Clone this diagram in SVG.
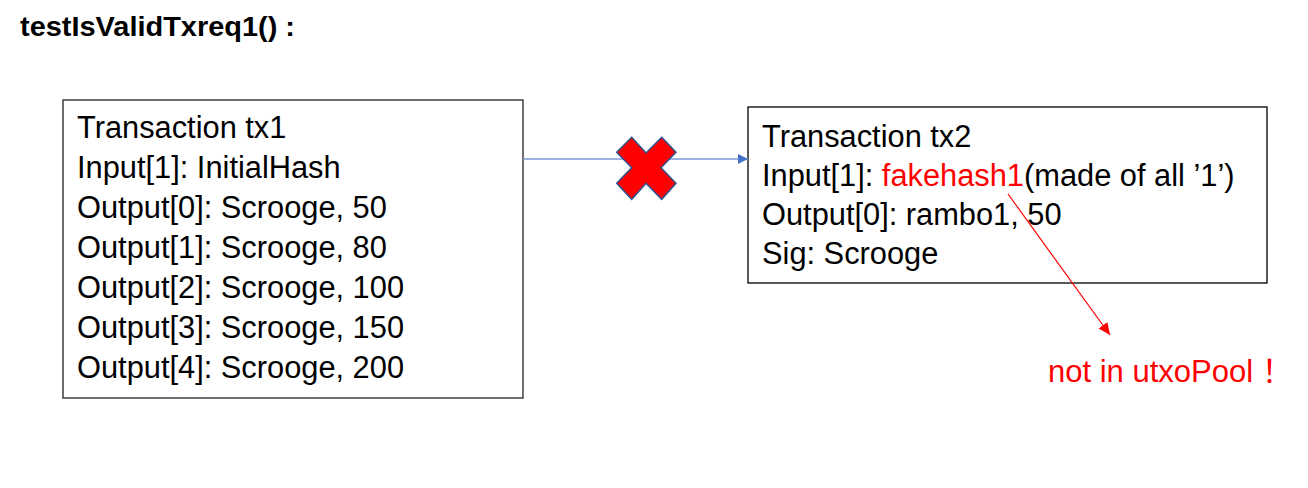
<svg xmlns="http://www.w3.org/2000/svg" width="1308" height="488" viewBox="0 0 1308 488">
<style>
.box{fill:#fff;stroke:#222;stroke-width:1.3}
.t{font-family:"Liberation Sans",Arial,sans-serif;font-size:30.8px;fill:#000}
.red{fill:#ff0000}
.title{font-family:"Liberation Sans",Arial,sans-serif;font-size:28px;font-weight:bold;fill:#000}
</style>
<defs>
<marker id="blueHead" viewBox="0 0 10 10" refX="10" refY="5" markerWidth="10" markerHeight="10" markerUnits="userSpaceOnUse" orient="auto">
<path d="M0,0 L10,5 L0,10 Z" fill="#4472C4"/>
</marker>
<marker id="redHead" viewBox="0 0 10 10" refX="10" refY="5" markerWidth="12" markerHeight="12" markerUnits="userSpaceOnUse" orient="auto">
<path d="M0,0.5 L10,5 L0,9.5 Z" fill="#ff0000"/>
</marker>
</defs>
<rect width="1308" height="488" fill="#fff"/>
<text class="title" x="20" y="36" textLength="275" lengthAdjust="spacingAndGlyphs">testIsValidTxreq1() :</text>
<g id="tx1">
<rect class="box" x="63" y="100" width="460" height="298"/>
<text class="t" x="77" y="138">Transaction tx1</text>
<text class="t" x="77" y="178">Input[1]: InitialHash</text>
<text class="t" x="77" y="218">Output[0]: Scrooge, 50</text>
<text class="t" x="77" y="258">Output[1]: Scrooge, 80</text>
<text class="t" x="77" y="298">Output[2]: Scrooge, 100</text>
<text class="t" x="77" y="338">Output[3]: Scrooge, 150</text>
<text class="t" x="77" y="378">Output[4]: Scrooge, 200</text>
</g>
<g id="tx2">
<rect class="box" x="748" y="107" width="519" height="176" style="stroke:#000"/>
<text class="t" x="762" y="147">Transaction tx2</text>
<text class="t" x="762" y="186">Input[1]: <tspan class="red">fakehash1</tspan>(made of all ’1’)</text>
<text class="t" x="762" y="225">Output[0]: rambo1, 50</text>
<text class="t" x="762" y="264">Sig: Scrooge</text>
</g>
<g id="note">
<text x="1048" y="382" style="font-family:'Liberation Sans','Noto Sans CJK SC',sans-serif;font-size:31px;fill:#ff0000">not in utxoPool <tspan style="font-family:'Noto Sans CJK SC',sans-serif">！</tspan></text>
</g>
<g id="connectors">
<line x1="523" y1="159" x2="748" y2="159" stroke="#7b9ad8" stroke-width="1.5" marker-end="url(#blueHead)"/>
<line x1="1008" y1="194" x2="1110" y2="335" stroke="#ff0000" stroke-width="1.2" marker-end="url(#redHead)"/>
</g>
<g id="cross">
<polygon points="631.7,137.3 646,153 661.7,137.3 676,152.3 661,167.7 676,183.3 661.7,199.3 646,183.3 631.7,199.3 616.7,183.3 631.7,167.7 616.7,152.3" fill="#ff0000" stroke="#2f528f" stroke-width="1.5" stroke-linejoin="miter"/>
</g>
</svg>
